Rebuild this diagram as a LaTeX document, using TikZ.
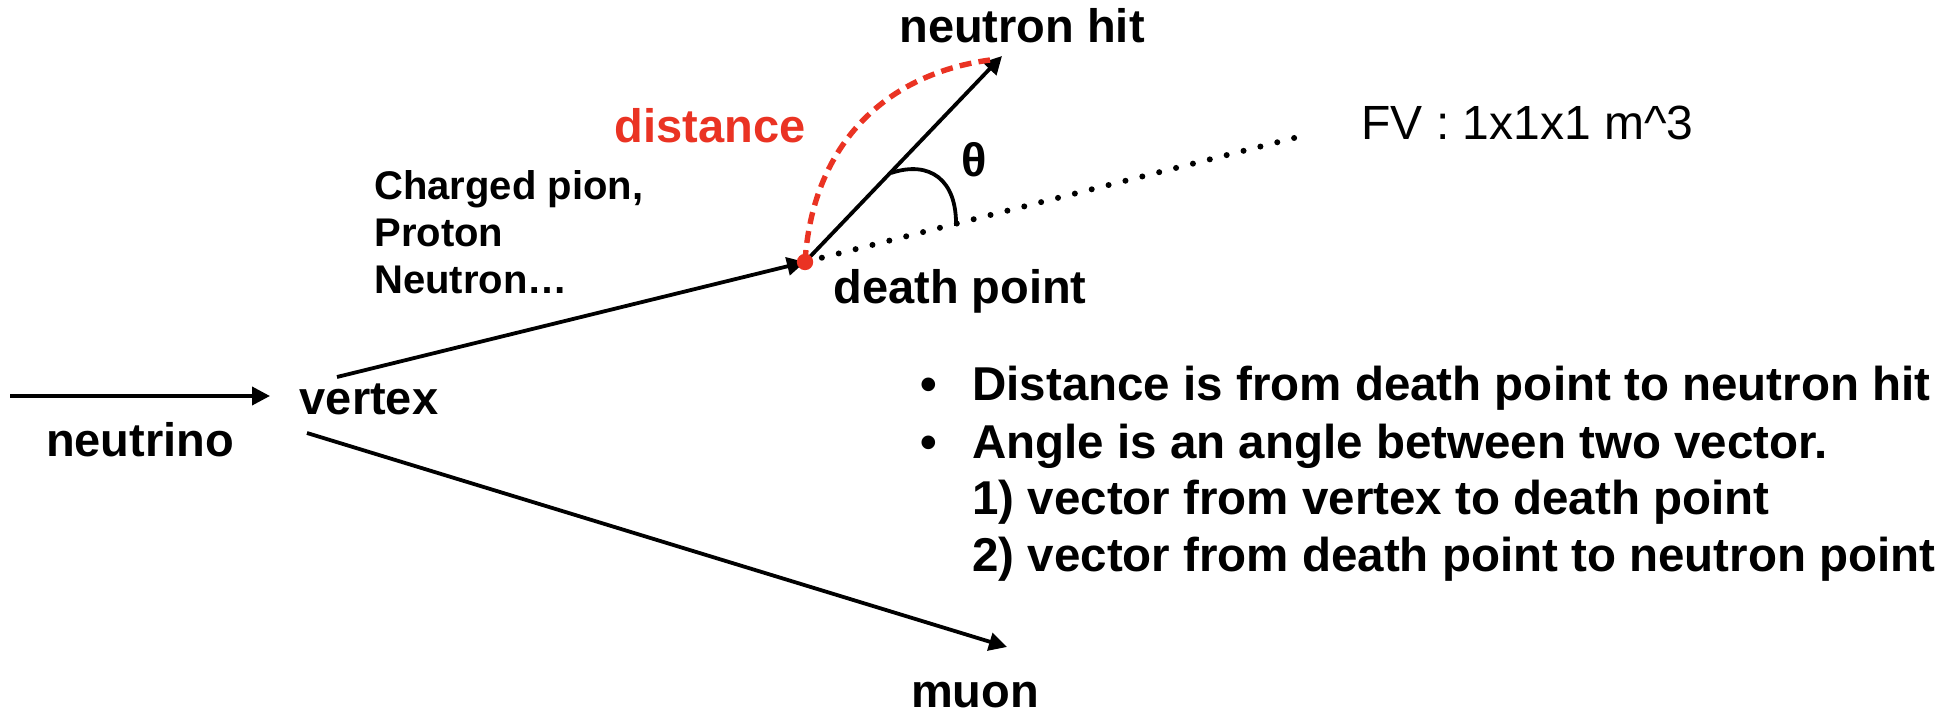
\documentclass[tikz,border=0pt]{standalone}
\usepackage{fontspec}
\setmainfont{Liberation Sans}
\usetikzlibrary{arrows.meta}
\definecolor{distred}{RGB}{234,51,35}
\begin{document}
\begin{tikzpicture}[x=0.5pt,y=-0.5pt,
  lbl/.style={font=\fontsize{23.5}{28}\selectfont\bfseries, inner sep=0pt},
  track/.style={line width=1.9pt, -{Triangle[length=9pt,width=9pt]}},
  dotline/.style={line width=3pt, line cap=round, dash pattern=on 0pt off 8.7pt},
  reddash/.style={line width=2.7pt, distred, dash pattern=on 6pt off 3.6pt},
  anglearc/.style={line width=1.9pt},
]
\useasboundingbox (0,0) rectangle (1955,716);
% points
\coordinate (nuS) at (10,396);
\coordinate (nuE) at (270,396);
\coordinate (piS) at (337,377);
\coordinate (dp) at (805,262);
\coordinate (muS) at (307,433);
\coordinate (muE) at (1007,647);
\coordinate (nh) at (1002,56);
\coordinate (fvE) at (1302,136);
\coordinate (thA) at (891,173);
\coordinate (thB) at (956,226);
\coordinate (dEnd) at (990,60);
% tracks
\draw[track] (nuS) -- (nuE);
\draw[track] (piS) -- (dp);
\draw[track] (muS) -- (muE);
\draw[track] (dp) -- (nh);
\draw[dotline] (dp) -- (fvE);
\draw[anglearc] (thA) .. controls (930,160) and (957,180) .. (thB);
\draw[reddash] (dp) .. controls (812,150) and (880,75) .. (dEnd);
\fill[distred] (dp) circle (4.1pt);
% labels
\node[lbl, anchor=base] (neutrino) at (140,457) {neutrino};
\node[lbl, anchor=base] (vertex) at (369,415) {vertex};
\node[anchor=base west, inner sep=0pt, font=\fontsize{20}{23.5}\selectfont\bfseries] (particles) at (374,200)
  {\parbox[t]{300pt}{Charged pion,\\Proton\\Neutron…}};
\node[lbl, anchor=base, text=distred] (distance) at (710,143) {distance};
\node[lbl, anchor=base] (nhit) at (1022,43) {neutron hit};
\node[lbl, anchor=base] (death) at (960,304) {death point};
\node[lbl, anchor=base] (muon) at (975,707) {muon};
\node[lbl, anchor=base] (theta) at (974,177) {θ};
\node[anchor=base west, inner sep=0pt, font=\fontsize{24}{28}\selectfont] (fv) at (1361,140) {FV : 1x1x1 m\textasciicircum 3};
\node[anchor=base west, inner sep=0pt, font=\fontsize{23.75}{28.5}\selectfont\bfseries] (notes) at (920,401)
  {\parbox[t]{600pt}{\makebox[26pt][l]{•}Distance is from death point to neutron hit\\
   \makebox[26pt][l]{•}Angle is an angle between two vector.\\
   \hspace*{26pt}1) vector from vertex to death point\\
   \hspace*{26pt}2) vector from death point to neutron point}};
\end{tikzpicture}
\end{document}
